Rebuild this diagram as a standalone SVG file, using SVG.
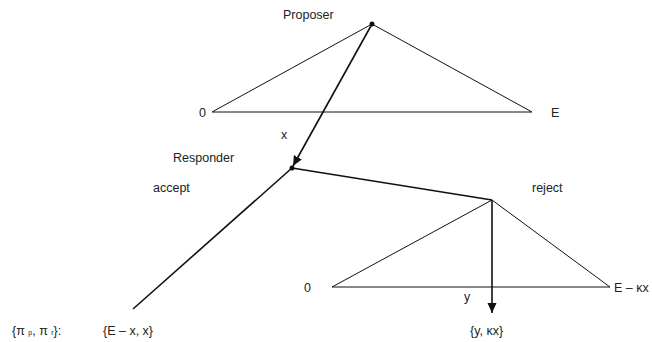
<svg xmlns="http://www.w3.org/2000/svg" width="652" height="342" viewBox="0 0 652 342">
<defs>
<style>
text{font-family:"Liberation Sans",Arial,sans-serif;font-size:12.5px;fill:#222}
.thin{stroke:#111;stroke-width:1;fill:none}
.thick{stroke:#111;stroke-width:1.6;fill:none}
</style>
<marker id="ah" markerWidth="12" markerHeight="12" refX="10" refY="6" orient="auto" markerUnits="userSpaceOnUse">
<path d="M0,1.5 L10,6 L0,10.5 Z" fill="#111"/>
</marker>
</defs>
<rect width="652" height="342" fill="#fff"/>
<g id="proposer">
<circle cx="372" cy="24" r="2.5" fill="#111"/>
<text x="283" y="19">Proposer</text>
<polygon class="thin" points="372,24 212,112 532,112"/>
<text x="199" y="117">0</text>
<text x="551" y="117">E</text>
</g>
<g id="responder">
<circle cx="292" cy="168" r="2.5" fill="#111"/>
<text x="173" y="162">Responder</text>
<text x="153" y="192">accept</text>
<text x="532" y="192">reject</text>
</g>
<g id="reject-node">
<polygon class="thin" points="492,200 332,287 610,287"/>
<text x="304" y="292">0</text>
<text x="614" y="292">E – κx</text>
</g>
<g id="connectors">
<line class="thick" x1="372" y1="24" x2="293" y2="166" marker-end="url(#ah)"/>
<text x="281" y="139">x</text>
<line class="thick" x1="292" y1="168" x2="492" y2="200"/>
<line class="thick" x1="292" y1="168" x2="133" y2="309"/>
<line class="thick" x1="492" y1="200" x2="492" y2="313" marker-end="url(#ah)"/>
<text x="464" y="301">y</text>
</g>
<g id="payoffs">
<text x="12" y="335">{π <tspan font-size="7">p</tspan>, π <tspan font-size="7">r</tspan>}:</text>
<text x="103" y="335">{E – x, x}</text>
<text x="470" y="335">{y, κx}</text>
</g>
</svg>
